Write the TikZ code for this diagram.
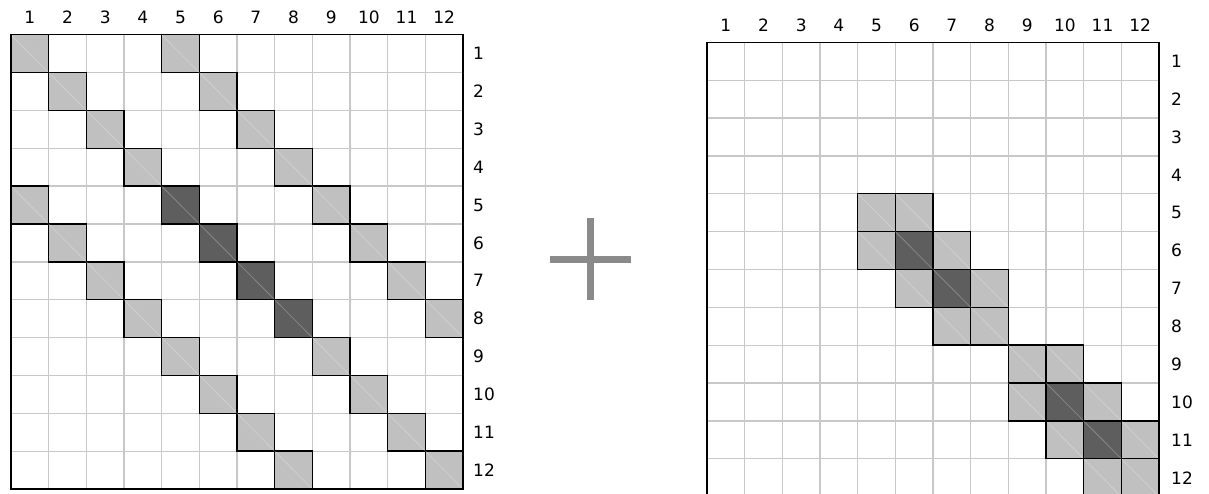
\documentclass[tikz,border=0pt]{standalone}
\usepackage{fontspec}
\setmainfont{DejaVu Sans}
\definecolor{gridgray}{HTML}{C8C8C8}
\definecolor{lightfill}{HTML}{C0C0C0}
\definecolor{darkfill}{HTML}{5E5E5E}
\definecolor{plusgray}{HTML}{8A8A8A}
\begin{document}
\begin{tikzpicture}[x=1pt,y=-1pt,
  gridline/.style={draw=gridgray,line width=1.3pt},
  lightcell/.style={fill=lightfill,draw=black,line width=1.4pt},
  darkcell/.style={fill=darkfill,draw=black,line width=1.4pt},
  diagline/.style={draw=white,opacity=0.25,line width=0.8pt},
  frame/.style={draw=black,line width=1.2pt},
  lbl/.style={font=\fontsize{17}{17}\selectfont,inner sep=0pt},
  plusline/.style={draw=plusgray,line width=7pt}]
\useasboundingbox (0,0) rectangle (1209,493);
\clip (0,0) rectangle (1209,493);
\fill[white] (0,0) rectangle (1209,493);
\def\cw{37.67}\def\ch{37.86}
% ---------- left grid ----------
\def\Lx{11}\def\Ly{34.7}
\foreach \i in {1,...,11} {
  \draw[gridline] ({\Lx+\i*\cw},\Ly) -- ++(0,{12*\ch});
  \draw[gridline] (\Lx,{\Ly+\i*\ch}) -- ++({12*\cw},0);
}
\foreach \r/\k in {1/1,1/5,2/2,2/6,3/3,3/7,4/4,4/8,5/1,5/9,6/2,6/10,7/3,7/11,8/4,8/12,9/5,9/9,10/6,10/10,11/7,11/11,12/8,12/12} {
  \filldraw[lightcell] ({\Lx+(\k-1)*\cw},{\Ly+(\r-1)*\ch}) rectangle ++(\cw,\ch);
  \draw[diagline] ({\Lx+(\k-1)*\cw},{\Ly+(\r-1)*\ch}) -- ++(\cw,\ch);
}
\foreach \r/\k in {5/5,6/6,7/7,8/8} {
  \filldraw[darkcell] ({\Lx+(\k-1)*\cw},{\Ly+(\r-1)*\ch}) rectangle ++(\cw,\ch);
  \draw[diagline] ({\Lx+(\k-1)*\cw},{\Ly+(\r-1)*\ch}) -- ++(\cw,\ch);
}
\draw[frame] (\Lx,\Ly) rectangle ++({12*\cw},{12*\ch});
\foreach \i in {1,...,12} {
  \node[lbl] (lc\i) at ({\Lx+(\i-0.5)*\cw},17) {\i};
  \node[lbl,anchor=west] (lr\i) at (473,{\Ly+(\i-0.5)*\ch}) {\i};
}
% ---------- plus ----------
\draw[plusline] (590,218) -- (590,300);
\draw[plusline] (550,259) -- (631,259);
% ---------- right grid ----------
\def\Rx{707}\def\Ry{42.3}
\foreach \i in {1,...,11} {
  \draw[gridline] ({\Rx+\i*\cw},\Ry) -- ++(0,{12*\ch});
  \draw[gridline] (\Rx,{\Ry+\i*\ch}) -- ++({12*\cw},0);
}
\foreach \r/\k in {5/5,5/6,6/5,6/7,7/6,7/8,8/7,8/8,9/9,9/10,10/9,10/11,11/10,11/12,12/11,12/12} {
  \filldraw[lightcell] ({\Rx+(\k-1)*\cw},{\Ry+(\r-1)*\ch}) rectangle ++(\cw,\ch);
  \draw[diagline] ({\Rx+(\k-1)*\cw},{\Ry+(\r-1)*\ch}) -- ++(\cw,\ch);
}
\foreach \r/\k in {6/6,7/7,10/10,11/11} {
  \filldraw[darkcell] ({\Rx+(\k-1)*\cw},{\Ry+(\r-1)*\ch}) rectangle ++(\cw,\ch);
  \draw[diagline] ({\Rx+(\k-1)*\cw},{\Ry+(\r-1)*\ch}) -- ++(\cw,\ch);
}
\draw[frame] (\Rx,\Ry) rectangle ++({12*\cw},{12*\ch});
\foreach \i in {1,...,12} {
  \node[lbl] (rc\i) at ({\Rx+(\i-0.5)*\cw},25) {\i};
  \node[lbl,anchor=west] (rr\i) at (1171,{\Ry+(\i-0.5)*\ch}) {\i};
}
\end{tikzpicture}
\end{document}
